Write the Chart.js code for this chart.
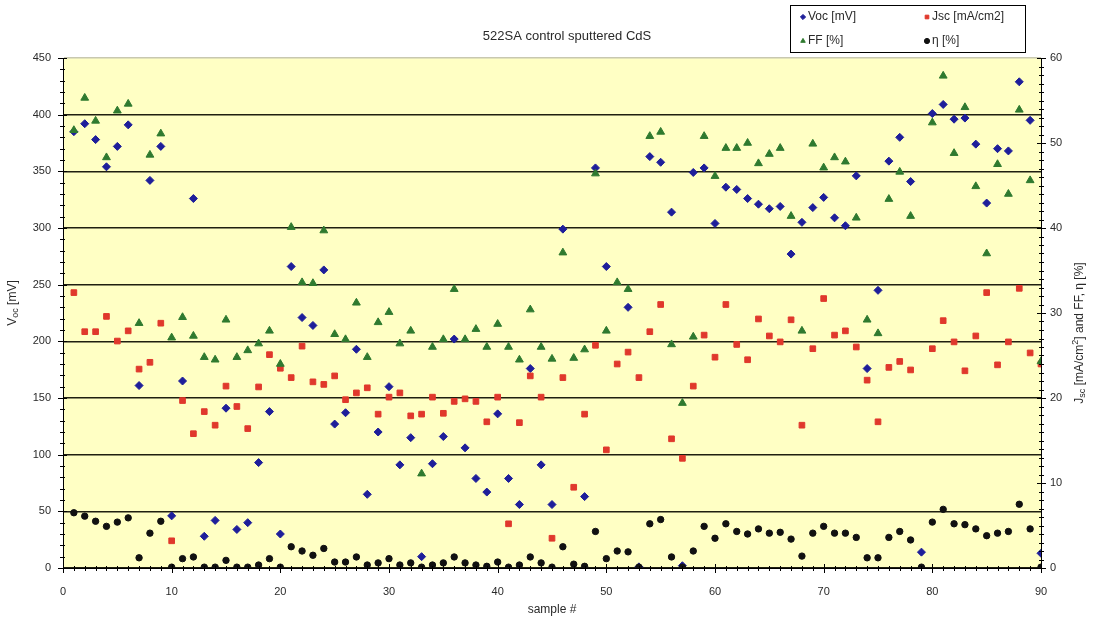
<!DOCTYPE html>
<html>
<head>
<meta charset="utf-8">
<title>522SA control sputtered CdS</title>
<script src="https://cdn.jsdelivr.net/npm/chart.js@4.4.1/dist/chart.umd.min.js"></script>
<style>
  html, body { margin: 0; padding: 0; background: #fff; }
  #wrap { width: 1096px; height: 623px; }
</style>
</head>
<body>
<div id="wrap"><canvas id="cellChart" width="1096" height="623"></canvas></div>
<script>
// sample numbers along the x axis
const samples = [
  1, 2, 3, 4, 5, 6, 7, 8, 9, 10,
  11, 12, 13, 14, 15, 16, 17, 18, 19, 20,
  21, 22, 23, 24, 25, 26, 27, 28, 29, 30,
  31, 32, 33, 34, 35, 36, 37, 38, 39, 40,
  41, 42, 43, 44, 45, 46, 47, 48, 49, 50,
  51, 52, 53, 54, 55, 56, 57, 58, 59, 60,
  61, 62, 63, 64, 65, 66, 67, 68, 69, 70,
  71, 72, 73, 74, 75, 76, 77, 78, 79, 80,
  81, 82, 83, 84, 85, 86, 87, 88, 89, 90
];

// Voc [mV] - left axis
const vocValues = [
  385, 392, 378, 354, 372, 391, 161, 342, 372, 46,
  165, 326, 28, 42, 141, 34, 40, 93, 138, 30,
  266, 221, 214, 263, 127, 137, 193, 65, 120, 160,
  91, 115, 10, 92, 116, 202, 106, 79, 67, 136,
  79, 56, 176, 91, 56, 299, null, 63, 353, 266,
  null, 230, 1, 363, 358, 314, 2, 349, 353, 304,
  336, 334, 326, 321, 317, 319, 277, 305, 318, 327,
  309, 302, 346, 176, 245, 359, 380, 341, 14, 401,
  409, 396, 397, 374, 322, 370, 368, 429, 395, 13
];

// Jsc [mA/cm2] - right axis
const jscValues = [
  32.4, 27.8, 27.8, 29.6, 26.7, 27.9, 23.4, 24.2, 28.8, 3.2,
  19.7, 15.8, 18.4, 16.8, 21.4, 19.0, 16.4, 21.3, 25.1, 23.5,
  22.4, 26.1, 21.9, 21.6, 22.6, 19.8, 20.6, 21.2, 18.1, 20.1,
  20.6, 17.9, 18.1, 20.1, 18.2, 19.6, 19.9, 19.6, 17.2, 20.1,
  5.2, 17.1, 22.6, 20.1, 3.5, 22.4, 9.5, 18.1, 26.2, 13.9,
  24.0, 25.4, 22.4, 27.8, 31.0, 15.2, 12.9, 21.4, 27.4, 24.8,
  31.0, 26.3, 24.5, 29.3, 27.3, 26.6, 29.2, 16.8, 25.8, 31.7,
  27.4, 27.9, 26.0, 22.1, 17.2, 23.6, 24.3, 23.3, null, 25.8,
  29.1, 26.6, 23.2, 27.3, 32.4, 23.9, 26.6, 32.9, 25.3, 24.0
];

// FF [%] - right axis
const ffValues = [
  51.5, 55.3, 52.6, 48.3, 53.8, 54.6, 28.8, 48.6, 51.1, 27.1,
  29.5, 27.3, 24.8, 24.5, 29.2, 24.8, 25.6, 26.4, 27.9, 24.0,
  40.1, 33.6, 33.5, 39.7, 27.5, 26.9, 31.2, 24.8, 28.9, 30.1,
  26.4, 27.9, 11.1, 26.0, 26.9, 32.8, 26.9, 28.1, 26.0, 28.7,
  26.0, 24.5, 30.4, 26.0, 24.6, 37.1, 24.7, 25.7, 46.4, 27.9,
  33.6, 32.8, null, 50.8, 51.3, 26.3, 19.4, 27.2, 50.8, 46.1,
  49.4, 49.4, 50.0, 47.6, 48.7, 49.4, 41.4, 27.9, 49.9, 47.1,
  48.3, 47.8, 41.2, 29.2, 27.6, 43.4, 46.6, 41.4, null, 52.4,
  57.9, 48.8, 54.2, 44.9, 37.0, 47.5, 44.0, 53.9, 45.6, 24.3
];

// efficiency [%] - right axis
const etaValues = [
  6.5, 6.1, 5.5, 4.9, 5.4, 5.9, 1.2, 4.1, 5.5, 0.1,
  1.1, 1.3, 0.1, 0.1, 0.9, 0.1, 0.1, 0.35, 1.1, 0.1,
  2.5, 2.0, 1.5, 2.3, 0.7, 0.7, 1.3, 0.35, 0.6, 1.1,
  0.35, 0.6, 0.1, 0.35, 0.6, 1.3, 0.6, 0.35, 0.2, 0.7,
  0.1, 0.35, 1.3, 0.6, 0.1, 2.5, 0.45, 0.2, 4.3, 1.1,
  2.0, 1.9, 0.1, 5.2, 5.7, 1.3, 0.1, 2.0, 4.9, 3.5,
  5.2, 4.3, 4.0, 4.6, 4.1, 4.2, 3.4, 1.4, 4.1, 4.9,
  4.1, 4.1, 3.6, 1.2, 1.2, 3.6, 4.3, 3.3, 0.1, 5.4,
  6.9, 5.2, 5.1, 4.6, 3.8, 4.1, 4.3, 7.5, 4.6, 0.1
];

const leftTicks = [0, 50, 100, 150, 200, 250, 300, 350, 400, 450];
const rightTicks = [0, 10, 20, 30, 40, 50, 60];
const xTicks = [0, 10, 20, 30, 40, 50, 60, 70, 80, 90];

const FONT = "'Liberation Sans', Arial, sans-serif";
const TEXT = '#2a2a2a';

function toPoints(values) {
  return samples.map((s, i) => ({ x: s, y: values[i] })).filter(p => p.y !== null);
}

const series = [
  { label: 'Voc [mV]', data: vocValues, axis: 'y', style: 'rectRot', color: '#1e1e9a', radius: 4 },
  { label: 'Jsc [mA/cm2]', data: jscValues, axis: 'y2', style: 'rect', color: '#e0382c', radius: 4 },
  { label: 'FF [%]', data: ffValues, axis: 'y2', style: 'triangle', color: '#2f7a2f', radius: 4.5 },
  { label: 'η [%]', data: etaValues, axis: 'y2', style: 'circle', color: '#111111', radius: 3.2 }
];

// draw text made of pieces with sub/superscripts, centred on (x, y)
function drawRich(ctx, parts, x, y, angle) {
  ctx.save();
  ctx.translate(x, y);
  ctx.rotate(angle);
  ctx.fillStyle = TEXT;
  ctx.textBaseline = 'middle';
  ctx.textAlign = 'left';
  let total = 0;
  parts.forEach(p => {
    ctx.font = (p.sub || p.sup ? 9 : 12) + 'px ' + FONT;
    p.w = ctx.measureText(p.t).width;
    total += p.w;
  });
  let cx = -total / 2;
  parts.forEach(p => {
    ctx.font = (p.sub || p.sup ? 9 : 12) + 'px ' + FONT;
    ctx.fillText(p.t, cx, p.sub ? 3 : (p.sup ? -4 : 0));
    cx += p.w;
  });
  ctx.restore();
}

const plotBackground = {
  id: 'plotBackground',
  beforeDraw(chart) {
    const { ctx, chartArea: a } = chart;
    ctx.save();
    ctx.fillStyle = '#ffffc4';
    ctx.fillRect(a.left, a.top, a.right - a.left, a.bottom - a.top);
    ctx.restore();
  }
};

const decorations = {
  id: 'decorations',
  afterDraw(chart) {
    const { ctx, chartArea: a, scales } = chart;
    ctx.save();

    // minor and major tick marks crossing each axis
    ctx.strokeStyle = '#000';
    ctx.lineWidth = 1;
    ctx.beginPath();
    for (let v = 0; v <= 90; v++) {
      const px = Math.round(scales.x.getPixelForValue(v)) + 0.5;
      const major = v % 10 === 0;
      ctx.moveTo(px, a.bottom - (major ? 4 : 2));
      ctx.lineTo(px, a.bottom + (major ? 5 : 3));
    }
    for (let v = 0; v <= 450; v += 10) {
      const py = Math.round(scales.y.getPixelForValue(v)) + 0.5;
      const major = v % 50 === 0;
      ctx.moveTo(a.left - (major ? 5 : 3), py);
      ctx.lineTo(a.left + (major ? 4 : 2), py);
    }
    for (let v = 0; v <= 60; v++) {
      const py = Math.round(scales.y2.getPixelForValue(v)) + 0.5;
      const major = v % 10 === 0;
      ctx.moveTo(a.right - (major ? 4 : 2), py);
      ctx.lineTo(a.right + (major ? 5 : 3), py);
    }
    ctx.stroke();

    // title and axis titles
    ctx.fillStyle = TEXT;
    ctx.font = '13px ' + FONT;
    ctx.textAlign = 'center';
    ctx.textBaseline = 'middle';
    ctx.fillText('522SA control sputtered CdS', 567, 36);
    ctx.font = '12px ' + FONT;
    ctx.fillText('sample #', (a.left + a.right) / 2, 610);

    drawRich(ctx, [{ t: 'V' }, { t: 'oc', sub: true }, { t: ' [mV]' }], 13, 303, -Math.PI / 2);
    drawRich(ctx, [
      { t: 'J' }, { t: 'sc', sub: true }, { t: ' [mA/cm' }, { t: '2', sup: true },
      { t: '] and FF, η [%]' }
    ], 1080, 333, -Math.PI / 2);

    // legend box
    const box = { x: 790.5, y: 5.5, w: 235, h: 47 };
    ctx.fillStyle = '#fff';
    ctx.fillRect(box.x, box.y, box.w, box.h);
    ctx.strokeStyle = '#000';
    ctx.strokeRect(box.x, box.y, box.w, box.h);
    const slots = [[803, 17], [927, 17], [803, 41], [927, 41]];
    series.forEach((s, i) => {
      const [lx, ly] = slots[i];
      ctx.fillStyle = s.color;
      ctx.strokeStyle = s.color;
      Chart.helpers.drawPoint(ctx, { pointStyle: s.style, radius: 2.6, rotation: 0, borderWidth: 1 }, lx, ly);
      ctx.fillStyle = TEXT;
      ctx.font = '12px ' + FONT;
      ctx.textAlign = 'left';
      ctx.textBaseline = 'middle';
      ctx.fillText(s.label, lx + 5, ly);
    });

    ctx.restore();
  }
};

const ctx = document.getElementById('cellChart').getContext('2d');
new Chart(ctx, {
  type: 'scatter',
  data: {
    datasets: series.map((s, i) => ({
      label: s.label,
      data: toPoints(s.data),
      yAxisID: s.axis,
      pointStyle: s.style,
      pointRadius: s.radius,
      pointBackgroundColor: s.color,
      pointBorderColor: s.color,
      pointBorderWidth: 1,
      showLine: false,
      order: 4 - i
    }))
  },
  options: {
    responsive: false,
    animation: false,
    devicePixelRatio: 1,
    layout: { padding: { top: 58, left: 0, right: 0, bottom: 0 } },
    plugins: {
      legend: { display: false },
      title: { display: false },
      tooltip: { enabled: false }
    },
    scales: {
      x: {
        type: 'linear',
        position: 'bottom',
        min: 0,
        max: 90,
        afterFit: scale => { scale.height = 55; },
        afterBuildTicks: scale => { scale.ticks = xTicks.map(v => ({ value: v })); },
        ticks: { padding: 17, color: TEXT, font: { family: FONT, size: 11 } },
        grid: { display: false, drawTicks: false },
        border: { display: true, color: '#000', width: 1 }
      },
      y: {
        type: 'linear',
        position: 'left',
        min: 0,
        max: 450,
        afterFit: scale => { scale.width = 63; },
        afterBuildTicks: scale => { scale.ticks = leftTicks.map(v => ({ value: v })); },
        ticks: { padding: 12, color: TEXT, font: { family: FONT, size: 11 } },
        grid: {
          drawTicks: false,
          lineWidth: 1.6,
          color: c => (c.tick && c.tick.value === 450) ? '#c8c8b0' : '#1f1f10'
        },
        border: { display: true, color: '#000', width: 1 }
      },
      y2: {
        type: 'linear',
        position: 'right',
        min: 0,
        max: 60,
        afterFit: scale => { scale.width = 55; },
        afterBuildTicks: scale => { scale.ticks = rightTicks.map(v => ({ value: v })); },
        ticks: { padding: 9, color: TEXT, font: { family: FONT, size: 11 } },
        grid: { display: false, drawTicks: false },
        border: { display: true, color: '#000', width: 1 }
      }
    }
  },
  plugins: [plotBackground, decorations]
});
</script>
</body>
</html>
